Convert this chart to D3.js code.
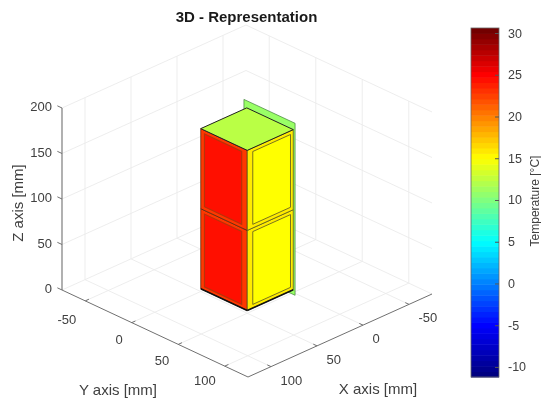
<!DOCTYPE html>
<html>
<head>
<meta charset="utf-8">
<script src="https://d3js.org/d3.v7.min.js"></script>
<style>
  html, body { margin: 0; padding: 0; background: #fff; }
  svg { display: block; filter: blur(0.35px); }
  text { font-family: "Liberation Sans", Arial, sans-serif; fill: #404040; }
</style>
</head>
<body>
<div id="chart"></div>
<script>
// tick values
const xTicks = [-50, 0, 50, 100];
const yTicks = [-50, 0, 50, 100];
const zTicks = [0, 50, 100, 150, 200];
const colorTicks = [-10, -5, 0, 5, 10, 15, 20, 25, 30];

// axis limits
const xLimits = [-75, 125];
const yLimits = [-75, 125];
const zLimits = [0, 200];

// block geometry in mm
const blockX = [0, 50];
const blockY = [0, 50];
const blockZ = [3, 91, 179];
const plateX = -2;
const plateY = [-5, 50];
const plateZ = [-4, 185];

// temperatures
const tempLeftInner = 24.4;
const tempLeftFrame = 22.8;
const tempRightInner = 15;
const tempRightFrame = 15.8;
const tempTop = 12.3;
const tempPlate = 11;

// colormap (jet like)
const colorDomain = [-11.2, -5, 5, 15, 25, 30.6];
const colorRange = ["#00007a", "#0000ff", "#00ffff", "#ffff00", "#ff0000", "#6a0000"];
const colorLevels = 64;

const width = 541, height = 401;
const svg = d3.select("#chart").append("svg")
    .attr("width", width)
    .attr("height", height);

const color = d3.scaleLinear().domain(colorDomain).range(colorRange);

// each data axis contributes a screen offset, the three are added up
const xToSx = d3.scaleLinear().domain([125, -75]).range([0, 184]);
const xToSy = d3.scaleLinear().domain([125, -75]).range([0, -83]);
const yToSx = d3.scaleLinear().domain([125, -75]).range([0, -186]);
const yToSy = d3.scaleLinear().domain([125, -75]).range([0, -87]);
const zToSy = d3.scaleLinear().domain([0, 200]).range([0, -182]);

function project(x, y, z) {
    return [248 + xToSx(x) + yToSx(y), 377 + xToSy(x) + yToSy(y) + zToSy(z)];
}

const pathOf = pts => "M" + pts.map(p => project(p[0], p[1], p[2]).join(",")).join("L") + "Z";
const lineGen = d3.line();

function seg(g, a, b, stroke, w) {
    g.append("path")
        .attr("d", lineGen([project(a[0], a[1], a[2]), project(b[0], b[1], b[2])]))
        .attr("stroke", stroke)
        .attr("stroke-width", w)
        .attr("fill", "none");
}

// grid on the floor and the two back walls
const grid = svg.append("g");
const gridColor = "#ebebeb";
xTicks.forEach(x => {
    seg(grid, [x, yLimits[0], 0], [x, yLimits[1], 0], gridColor, 0.9);
    seg(grid, [x, yLimits[0], 0], [x, yLimits[0], 200], gridColor, 0.9);
});
yTicks.forEach(y => {
    seg(grid, [xLimits[0], y, 0], [xLimits[1], y, 0], gridColor, 0.9);
    seg(grid, [xLimits[0], y, 0], [xLimits[0], y, 200], gridColor, 0.9);
});
zTicks.forEach(z => {
    seg(grid, [xLimits[1], yLimits[0], z], [xLimits[0], yLimits[0], z], gridColor, 0.9);
    seg(grid, [xLimits[0], yLimits[0], z], [xLimits[0], yLimits[1], z], gridColor, 0.9);
});

// axes
const axes = svg.append("g");
const axisColor = "#707070";
seg(axes, [xLimits[1], yLimits[0], 0], [xLimits[1], yLimits[1], 0], axisColor, 1);
seg(axes, [xLimits[1], yLimits[1], 0], [xLimits[0], yLimits[1], 0], axisColor, 1);
seg(axes, [xLimits[1], yLimits[0], 0], [xLimits[1], yLimits[0], 200], axisColor, 1.1);

const tickFont = 13;
yTicks.forEach(y => {
    seg(axes, [xLimits[1], y, 0], [xLimits[1] - 4, y, 0], axisColor, 1);
    const p = project(xLimits[1], y, 0);
    axes.append("text")
        .attr("x", p[0] - 9)
        .attr("y", p[1] + 17.3 - y * 0.033)
        .attr("dy", "0.35em")
        .attr("text-anchor", "end")
        .attr("font-size", tickFont)
        .text(y);
});
xTicks.forEach(x => {
    seg(axes, [x, yLimits[1], 0], [x, yLimits[1] - 4, 0], axisColor, 1);
    const p = project(x, yLimits[1], 0);
    axes.append("text")
        .attr("x", p[0] + 9.5)
        .attr("y", p[1] + 13.5)
        .attr("dy", "0.35em")
        .attr("font-size", tickFont)
        .text(x);
});
zTicks.forEach(z => {
    seg(axes, [xLimits[1], yLimits[0], z], [xLimits[1], yLimits[0] - 5, z], axisColor, 1);
    const p = project(xLimits[1], yLimits[0], z);
    axes.append("text")
        .attr("x", p[0] - 10)
        .attr("y", p[1] - 1.5)
        .attr("dy", "0.35em")
        .attr("text-anchor", "end")
        .attr("font-size", tickFont)
        .text(z);
});

// green plate behind the block
const block = svg.append("g");
block.append("path")
    .attr("d", pathOf([
        [plateX, plateY[0], plateZ[0]], [plateX, plateY[1], plateZ[0]],
        [plateX, plateY[1], plateZ[1]], [plateX, plateY[0], plateZ[1]]
    ]))
    .attr("fill", color(tempPlate))
    .attr("stroke", "#3f7f3a")
    .attr("stroke-width", 0.7);

// front faces: an outer frame with a rectangle set into it
function leftFace(z0, z1) {
    const x = blockX[1];
    block.append("path")
        .attr("d", pathOf([[x, blockY[0], z0], [x, blockY[1], z0], [x, blockY[1], z1], [x, blockY[0], z1]]))
        .attr("fill", color(tempLeftFrame))
        .attr("stroke", "#5a2a10")
        .attr("stroke-width", 0.8);
    block.append("path")
        .attr("d", pathOf([[x, blockY[0] + 4, z0 + 4], [x, blockY[1] - 6, z0 + 4], [x, blockY[1] - 6, z1 - 4], [x, blockY[0] + 4, z1 - 4]]))
        .attr("fill", color(tempLeftInner))
        .attr("stroke", "#b83208")
        .attr("stroke-width", 1.2);
}

function rightFace(z0, z1) {
    const y = blockY[1];
    block.append("path")
        .attr("d", pathOf([[blockX[1], y, z0], [blockX[0], y, z0], [blockX[0], y, z1], [blockX[1], y, z1]]))
        .attr("fill", color(tempRightFrame))
        .attr("stroke", "#5a5a20")
        .attr("stroke-width", 0.8);
    block.append("path")
        .attr("d", pathOf([[blockX[1] - 6, y, z0 + 4], [blockX[0] + 3, y, z0 + 4], [blockX[0] + 3, y, z1 - 4], [blockX[1] - 6, y, z1 - 4]]))
        .attr("fill", color(tempRightInner))
        .attr("stroke", "#6a6420")
        .attr("stroke-width", 0.9);
}

d3.pairs(blockZ).forEach(p => {
    leftFace(p[0], p[1]);
    rightFace(p[0], p[1]);
});

const zTop = blockZ[blockZ.length - 1];
block.append("path")
    .attr("d", pathOf([[blockX[0], blockY[0], zTop], [blockX[1], blockY[0], zTop], [blockX[1], blockY[1], zTop], [blockX[0], blockY[1], zTop]]))
    .attr("fill", color(tempTop))
    .attr("stroke", "#222")
    .attr("stroke-width", 1);
seg(block, [blockX[1], blockY[0], blockZ[0]], [blockX[1], blockY[1], blockZ[0]], "#111", 1.5);
seg(block, [blockX[1], blockY[1], blockZ[0]], [blockX[0], blockY[1], blockZ[0]], "#111", 1.5);

// titles
svg.append("text")
    .attr("x", 246.5)
    .attr("y", 22)
    .attr("text-anchor", "middle")
    .attr("font-size", 15)
    .attr("font-weight", "bold")
    .style("fill", "#1a1a1a")
    .text("3D - Representation");
svg.append("text")
    .attr("x", 118)
    .attr("y", 395)
    .attr("text-anchor", "middle")
    .attr("font-size", 15)
    .text("Y axis [mm]");
svg.append("text")
    .attr("x", 378)
    .attr("y", 394)
    .attr("text-anchor", "middle")
    .attr("font-size", 15)
    .text("X axis [mm]");
svg.append("text")
    .attr("transform", "translate(23,203) rotate(-90)")
    .attr("text-anchor", "middle")
    .attr("font-size", 15)
    .text("Z axis [mm]");

// colorbar
const cbX = 471, cbW = 28;
const cbScale = d3.scaleLinear().domain([colorDomain[0], colorDomain[5]]).range([377, 28]);
const levels = d3.range(colorLevels);
const step = (colorDomain[5] - colorDomain[0]) / colorLevels;
const cb = svg.append("g");
cb.selectAll("rect")
    .data(levels)
    .enter()
    .append("rect")
    .attr("x", cbX)
    .attr("width", cbW)
    .attr("y", d => cbScale(colorDomain[0] + (d + 1) * step))
    .attr("height", d => cbScale(colorDomain[0] + d * step) - cbScale(colorDomain[0] + (d + 1) * step) + 0.5)
    .attr("fill", d => color(colorDomain[0] + (d + 0.5) * step));
cb.append("rect")
    .attr("x", cbX)
    .attr("y", 28)
    .attr("width", cbW)
    .attr("height", 349)
    .attr("fill", "none")
    .attr("stroke", "#666")
    .attr("stroke-width", 0.8);

const cbAxis = svg.append("g")
    .attr("transform", `translate(${cbX + cbW},0)`)
    .call(d3.axisRight(cbScale).tickValues(colorTicks).tickFormat(d => String(d)).tickSize(-4).tickPadding(9));
cbAxis.select(".domain").remove();
cbAxis.selectAll("line").attr("stroke", "#555");
cbAxis.selectAll("text")
    .attr("font-size", 12.5)
    .style("font-family", '"Liberation Sans", Arial, sans-serif');

svg.append("text")
    .attr("transform", "translate(539,201) rotate(-90)")
    .attr("text-anchor", "middle")
    .attr("font-size", 12)
    .text("Temperature [°C]");
</script>
</body>
</html>
